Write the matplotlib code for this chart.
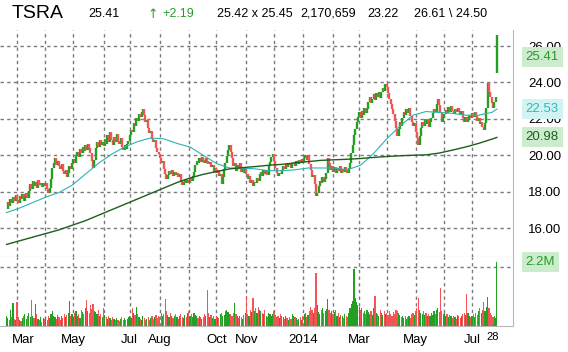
import matplotlib
matplotlib.use("Agg")
import matplotlib.pyplot as plt
import matplotlib.transforms as mtransforms
import numpy as np
import pandas as pd

plt.rcParams['font.family'] = ['Liberation Sans', 'DejaVu Sans']
plt.rcParams['lines.scale_dashes'] = False

# --- DATA ---
symbol = "TSRA"
first_day = "2013-02-19"

# daily closes
closes = [
    # Feb 2013
    17.05, 17.45, 17.20, 17.60, 17.35, 17.70, 17.50, 17.80,
    # Mar
    17.55, 17.40, 17.75, 17.60, 17.85, 17.50, 17.70, 17.95, 17.65, 18.05,
    18.40, 18.15, 18.60, 18.30, 18.55, 18.20, 18.65, 18.35, 18.50, 18.25, 18.45,
    # Apr
    18.30, 18.50, 18.15, 17.95, 18.20, 18.70,
    19.30, 19.60, 19.85, 19.45, 19.70, 19.40, 19.25,
    19.50, 19.15, 18.95, 19.20, 18.80, 19.05, 19.40, 19.25, 19.60,
    # May
    19.80, 19.55, 19.95, 20.20, 19.90, 20.35, 20.10, 20.45, 20.25, 20.55,
    20.30, 20.60, 20.40, 20.15, 19.70, 19.30, 19.75,
    20.40, 20.70, 20.45, 20.85, 20.55, 20.75,
    # Jun
    20.50, 20.90, 20.60, 21.10, 20.75, 21.25, 20.85, 20.55, 21.00, 20.70,
    21.15, 20.80, 20.60, 20.95, 20.45, 20.30, 20.55, 20.35, 20.60, 20.80,
    # Jul
    21.10, 21.40, 21.30, 21.75, 21.60, 22.05, 21.90, 22.25, 22.10, 22.40, 22.55,
    22.20, 21.85, 21.95, 21.50, 21.20, 21.35, 20.90, 20.70, 20.85, 20.40, 20.20, 20.05,
    # Aug
    19.85, 19.60, 19.70, 19.25, 18.95, 18.70, 18.90, 19.15,
    18.95, 19.20, 18.85, 19.10, 18.90, 19.05, 18.80, 18.95,
    18.60, 18.35, 18.55, 18.70, 18.45, 18.65,
    # Sep
    18.50, 18.75, 18.60, 18.85, 19.10, 19.45,
    19.70, 19.55, 19.85, 19.65, 19.90, 19.75, 19.60, 19.85, 19.70, 19.50, 19.65,
    19.35, 19.45, 19.10, 19.30,
    # Oct
    19.00, 19.20, 18.85, 18.95, 18.40,
    18.80, 19.25, 19.60, 19.95, 20.30, 20.55, 20.20, 19.85,
    19.40, 19.60, 19.15, 19.45, 19.25, 19.55, 19.10, 19.35, 19.05, 19.30,
    # Nov
    18.95, 18.70, 18.85, 18.50, 18.65, 18.30, 18.55, 18.45,
    18.75, 18.60, 18.95, 19.10, 18.85, 19.20, 18.95, 19.15, 18.90, 19.40,
    19.65, 19.90, 20.05,
    # Dec
    19.70, 19.30, 19.05, 18.85, 19.00, 18.95, 19.20,
    19.40, 19.25, 19.50, 19.35, 19.60, 19.45, 19.30, 19.55, 19.65, 19.40, 19.70, 19.50,
    19.75, 19.60, 19.80,
    # Jan 2014
    19.65, 19.85, 20.00, 19.75, 19.95, 19.50, 19.20,
    18.80, 18.90, 18.40, 17.75, 17.95, 18.30,
    18.60, 18.45, 18.80, 18.55, 18.70, 19.05,
    19.85, 19.55, 19.20, 19.40,
    # Feb
    19.10, 19.35, 19.05, 19.30, 19.15, 19.40, 19.00, 19.25, 19.10, 19.35, 19.20, 19.05, 19.30,
    19.60, 20.10, 20.55, 21.10, 21.45, 21.85, 22.10,
    # Mar
    22.35, 22.05, 22.45, 22.20, 22.60, 22.30, 22.55,
    22.90, 23.20, 22.85, 23.10, 23.35, 23.05,
    23.40, 23.20, 23.50, 23.15, 23.45, 23.70, 23.55, 23.90,
    # Apr
    23.75, 23.40, 23.10, 22.80, 22.55, 22.25,
    21.90, 21.50, 21.05, 21.45, 21.80, 21.60, 22.05,
    22.40, 22.20, 22.55, 22.30, 22.60, 22.15,
    21.85, 21.60, 21.75,
    # May
    21.30, 20.95, 20.55, 21.05, 21.50,
    21.85, 21.60, 22.00, 21.70, 21.95, 21.55, 21.80, 22.05,
    22.30, 22.55, 22.35, 22.80, 23.10, 22.75, 22.40,
    21.85, 22.05,
    # Jun
    22.25, 22.50, 22.30, 22.65, 22.40, 22.70, 22.45, 22.25, 22.55, 22.35, 22.60, 22.40, 22.20, 22.45,
    22.05, 21.85, 22.10, 21.80, 21.95, 22.20, 22.05,
    # Jul
    22.30, 22.10, 22.40, 22.15, 21.90, 22.05,
    21.70, 21.85, 21.55, 21.40, 21.75,
    22.60, 23.95, 23.50, 23.20, 22.85, 22.60, 22.95, 23.22, 25.41,
]

# daily volume, millions
volumes = [
    0.35, 0.28, 0.22, 0.54, 0.30, 0.77, 0.25, 0.20,
    0.82, 0.30, 0.22, 0.18, 0.27, 0.35, 0.40, 0.25, 0.33, 0.45, 0.30, 0.88, 0.35, 0.28, 0.75,
    0.40, 0.25, 0.20, 0.32, 0.15, 0.28,
    0.25, 0.30, 0.22, 0.35, 0.28, 0.40, 0.50, 0.33, 0.30, 0.25, 0.38, 0.30, 0.22, 0.35, 0.28,
    0.42, 0.30, 0.38, 0.45, 0.86, 0.35, 0.40,
    0.30, 0.45, 0.51, 0.35, 0.40, 0.28, 0.55, 0.48, 0.40, 0.62, 0.88, 0.50, 0.45, 0.70, 0.58,
    0.75, 0.52, 0.48, 0.40, 0.55, 0.35, 0.42, 0.30,
    0.60, 0.38, 0.30, 0.25, 0.33, 0.28, 0.22, 0.30, 0.25, 0.20, 0.28, 0.22, 0.18, 0.25, 0.30,
    0.22, 0.28, 0.20, 0.25, 0.30,
    0.35, 0.28, 0.60, 0.45, 0.38, 0.66, 0.40, 0.30, 0.25, 0.22, 0.35, 0.28, 0.20, 0.25, 0.30,
    0.22, 0.28, 0.35, 0.25, 0.30, 0.38, 0.28, 0.33,
    0.30, 0.45, 0.35, 0.40, 0.90, 0.50, 0.38, 0.30, 0.45, 0.35, 0.28, 0.33, 0.40, 0.30, 0.25,
    0.35, 0.42, 0.30, 0.28, 0.38, 0.32, 0.45,
    0.50, 0.35, 0.40, 0.30, 0.45, 0.38, 0.33, 0.28, 0.35, 0.30, 0.25, 0.32, 0.40, 0.35, 1.22,
    0.45, 0.30, 0.38, 0.28, 0.33, 0.25,
    0.35, 0.30, 0.28, 0.40, 0.45, 0.35, 0.38, 0.50, 0.55, 0.48, 0.42, 0.40, 0.35, 0.45, 0.77,
    0.40, 0.33, 0.28, 0.35, 0.30, 0.25, 0.38, 0.45,
    1.02, 0.40, 0.35, 0.55, 0.48, 0.94, 0.50, 0.60, 0.45, 0.65, 0.55, 0.50, 0.45, 0.40, 0.55,
    0.35, 0.30, 0.45, 0.40, 0.35, 0.42,
    0.50, 0.38, 0.30, 0.35, 0.28, 0.40, 0.33, 0.30, 0.25, 0.35, 0.28, 0.22, 0.30, 0.25, 0.40,
    0.35, 0.30, 0.28, 0.20, 0.25, 0.30, 0.22,
    0.35, 0.40, 0.45, 0.30, 0.38, 0.50, 0.65, 0.55, 0.45, 0.60, 1.81, 0.70, 0.48, 0.40, 0.55,
    0.60, 0.45, 0.50, 0.58, 0.90, 0.55, 0.45, 0.50,
    0.40, 0.48, 0.55, 0.35, 0.45, 0.30, 0.38, 0.33, 0.28, 0.40, 0.35, 0.30, 0.45, 0.60, 0.75,
    0.85, 1.92, 0.95, 0.80, 0.70,
    0.65, 0.55, 0.60, 0.45, 0.50, 0.40, 0.55, 0.48, 0.42, 0.50, 0.38, 0.60, 1.02, 0.45, 0.40,
    0.35, 0.55, 0.45, 0.38, 0.50, 0.42,
    0.45, 0.38, 0.50, 0.42, 0.35, 0.48, 0.40, 0.55, 0.50, 0.45, 0.38, 0.30, 0.35, 0.28, 0.33,
    0.25, 0.30, 0.35, 0.28, 0.40, 0.45, 0.38,
    0.50, 0.60, 0.94, 0.55, 0.45, 0.40, 0.50, 0.38, 0.45, 0.35, 0.40, 0.33, 0.45, 0.38, 0.50,
    0.42, 0.55, 0.60, 0.48, 1.29, 0.50, 0.40,
    0.45, 0.35, 0.40, 0.30, 0.38, 0.33, 0.28, 0.35, 0.30, 0.25, 0.38, 0.33, 0.28, 0.35, 0.40,
    0.45, 0.38, 1.08, 0.45, 0.35, 0.30,
    0.35, 0.40, 0.30, 0.45, 0.38, 0.50, 0.60, 0.45, 0.55, 0.82, 0.50, 0.65, 0.99, 0.60, 0.45,
    0.38, 0.30, 0.35, 0.28, 2.17,
]

# moving averages sampled every 10 sessions (plus the last session)
ma_step = 10
ma50 = [16.85, 17.10, 17.40, 17.70, 17.95, 18.35, 18.95, 19.55, 20.05, 20.45,
        20.75, 20.95, 20.90, 20.65, 20.45, 20.00, 19.55, 19.30, 19.30, 19.25,
        19.15, 19.15, 19.20, 19.30, 19.30, 19.30, 19.20, 19.45, 20.10, 20.90,
        21.60, 22.20, 22.40, 22.35, 22.30, 22.20, 22.20, 22.35, 22.53]
ma200 = [15.10, 15.30, 15.50, 15.70, 15.90, 16.15, 16.40, 16.70, 17.00, 17.30,
         17.60, 17.90, 18.20, 18.50, 18.75, 18.95, 19.10, 19.25, 19.32, 19.38,
         19.45, 19.50, 19.58, 19.65, 19.72, 19.75, 19.78, 19.82, 19.88, 19.93,
         19.97, 20.00, 20.02, 20.12, 20.28, 20.45, 20.65, 20.88, 20.98]

# quote header
last_price = 25.41
change = 2.19
bid, ask = 25.42, 25.45
day_volume = 2170659
prev_close = 23.22
day_high, day_low = 26.61, 24.50

price_ticks = [16, 18, 20, 22, 24, 26]
vol_grid = [2.0]
labeled_months = ["2013-03", "2013-05", "2013-07", "2013-08", "2013-10",
                  "2013-11", "2014-01", "2014-03", "2014-05", "2014-07"]

# --- PREP ---
n = len(closes)
dates = pd.bdate_range(first_day, periods=n)
idx = np.arange(n)
c = np.array(closes)
o = np.concatenate([[c[0]], c[:-1]])
lo = np.minimum(o, c)
hi = np.maximum(o, c)
lo[-1], hi[-1] = day_low, day_high
up = c >= o
GREEN = "#22a022"
RED = "#f25555"
cols = np.where(up, GREEN, RED)

ma_idx = list(range(0, n, ma_step))
if ma_idx[-1] != n - 1:
    ma_idx.append(n - 1)
ma_idx = ma_idx[:len(ma50)]

month_starts = []
month_keys = []
for k in range(1, n):
    if dates[k].month != dates[k - 1].month:
        month_starts.append(k)
        month_keys.append(dates[k].strftime("%Y-%m"))

# --- FIGURE ---
W, H = 568, 352
fig = plt.figure(figsize=(W / 100, H / 100), dpi=100)
axp = fig.add_axes([0, 1 - 257 / H, 513 / W, (257 - 30) / H])
axv = fig.add_axes([0, 1 - 326 / H, 513 / W, (326 - 257) / H])

GRID = "#7a7a7a"
DASH = (0, (2.4, 2.4))
for ax in (axp, axv):
    for s in ("left", "top"):
        ax.spines[s].set_visible(False)
    for s in ("right", "bottom"):
        ax.spines[s].set_color("#b8b8b8")
        ax.spines[s].set_linewidth(0.8)
    ax.set_xlim(-4.96, 386.3)
    for k in month_starts:
        ax.plot([k, k], [0, 1], transform=ax.get_xaxis_transform(),
                color=GRID, linestyle=DASH, linewidth=1.0, zorder=2)

# price pane
for p in price_ticks:
    axp.plot([0, 1], [p, p], transform=axp.get_yaxis_transform(),
             color=GRID, linestyle=DASH, linewidth=1.0, zorder=2)
axp.vlines(idx, lo, hi, colors=cols, linewidth=1.7, zorder=3)
axp.plot(ma_idx, ma50, color="#2ab4b4", linewidth=0.8, zorder=4)
axp.plot(ma_idx, ma200, color="#1d5e1d", linewidth=1.0, zorder=4)
axp.set_xlim(-4.96, 386.3)
axp.set_ylim(14.41, 26.88)
axp.yaxis.tick_right()
axp.set_yticks(price_ticks)
axp.set_yticklabels([f"{p:.2f}" for p in price_ticks])
axp.tick_params(axis="y", length=0, pad=11, labelsize=9.5)
axp.set_xticks([])

# volume pane
for v in vol_grid:
    axv.plot([0, 1], [v, v], transform=axv.get_yaxis_transform(),
             color=GRID, linestyle=DASH, linewidth=1.0, zorder=2)
axv.bar(idx, volumes, width=0.9, color=cols, linewidth=0, zorder=3)
axv.set_xlim(-4.96, 386.3)
axv.set_ylim(0, 2.34)
axv.set_yticks([])
axv.set_xticks(month_starts)
labels = []
for k, key in zip(month_starts, month_keys):
    if key in labeled_months:
        labels.append(dates[k].strftime("%Y") if dates[k].month == 1 else dates[k].strftime("%b"))
    else:
        labels.append("")
axv.set_xticklabels(labels)
axv.tick_params(axis="x", length=0, pad=6, labelsize=9.5)
# first label sits to the right of its gridline
first = axv.get_xticklabels()[0]
first.set_transform(first.get_transform() + mtransforms.ScaledTranslation(6 / 100, 0, fig.dpi_scale_trans))
axv.set_xticks([n - 1], minor=True)
axv.set_xticklabels([dates[-1].strftime("%d")], minor=True)
axv.tick_params(axis="x", which="minor", length=0, pad=4, labelsize=8)
for t in axv.get_xticklabels(minor=True):
    t.set_transform(t.get_transform() + mtransforms.ScaledTranslation(-4 / 100, 0, fig.dpi_scale_trans))

# value tags on the right
def tag(ax, val, text, fg, bg):
    ax.annotate(text, xy=(1, val), xycoords=("axes fraction", "data"),
                xytext=(9, 0), textcoords="offset points", ha="left", va="center",
                fontsize=9.5, color=fg, zorder=10, annotation_clip=False,
                bbox=dict(boxstyle="square,pad=0.3", fc=bg, ec="none"))

tag(axp, last_price, f"{last_price:.2f}", "#2a9a2a", "#cdeccd")
tag(axp, ma50[-1], f"{ma50[-1]:.2f}", "#33b8b8", "#d2f3f3")
tag(axp, ma200[-1], f"{ma200[-1]:.2f}", "#1d5e1d", "#cdeccd")
tag(axv, volumes[-1], f"{volumes[-1]:.1f}M", "#2a9a2a", "#cdeccd")

# quote header
ty = 1 - 14 / H
fig.text(12 / W, ty, symbol, fontsize=14, va="center", ha="left")
fig.text(88 / W, ty, f"{last_price:.2f}", fontsize=9, va="center")
fig.text(147 / W, ty, "\u2191", fontsize=9, va="center", color="#2a9a2a",
         family=["DejaVu Sans"])
fig.text(162 / W, ty, f"+{change:.2f}", fontsize=9, va="center", color="#2a9a2a")
fig.text(217 / W, ty, f"{bid:.2f} x {ask:.2f}", fontsize=9, va="center")
fig.text(300 / W, ty, f"{day_volume:,}", fontsize=9, va="center")
fig.text(367 / W, ty, f"{prev_close:.2f}", fontsize=9, va="center")
fig.text(414 / W, ty, f"{day_high:.2f} \\ {day_low:.2f}", fontsize=9, va="center")

fig.savefig("out.png", dpi=100, facecolor="white")
